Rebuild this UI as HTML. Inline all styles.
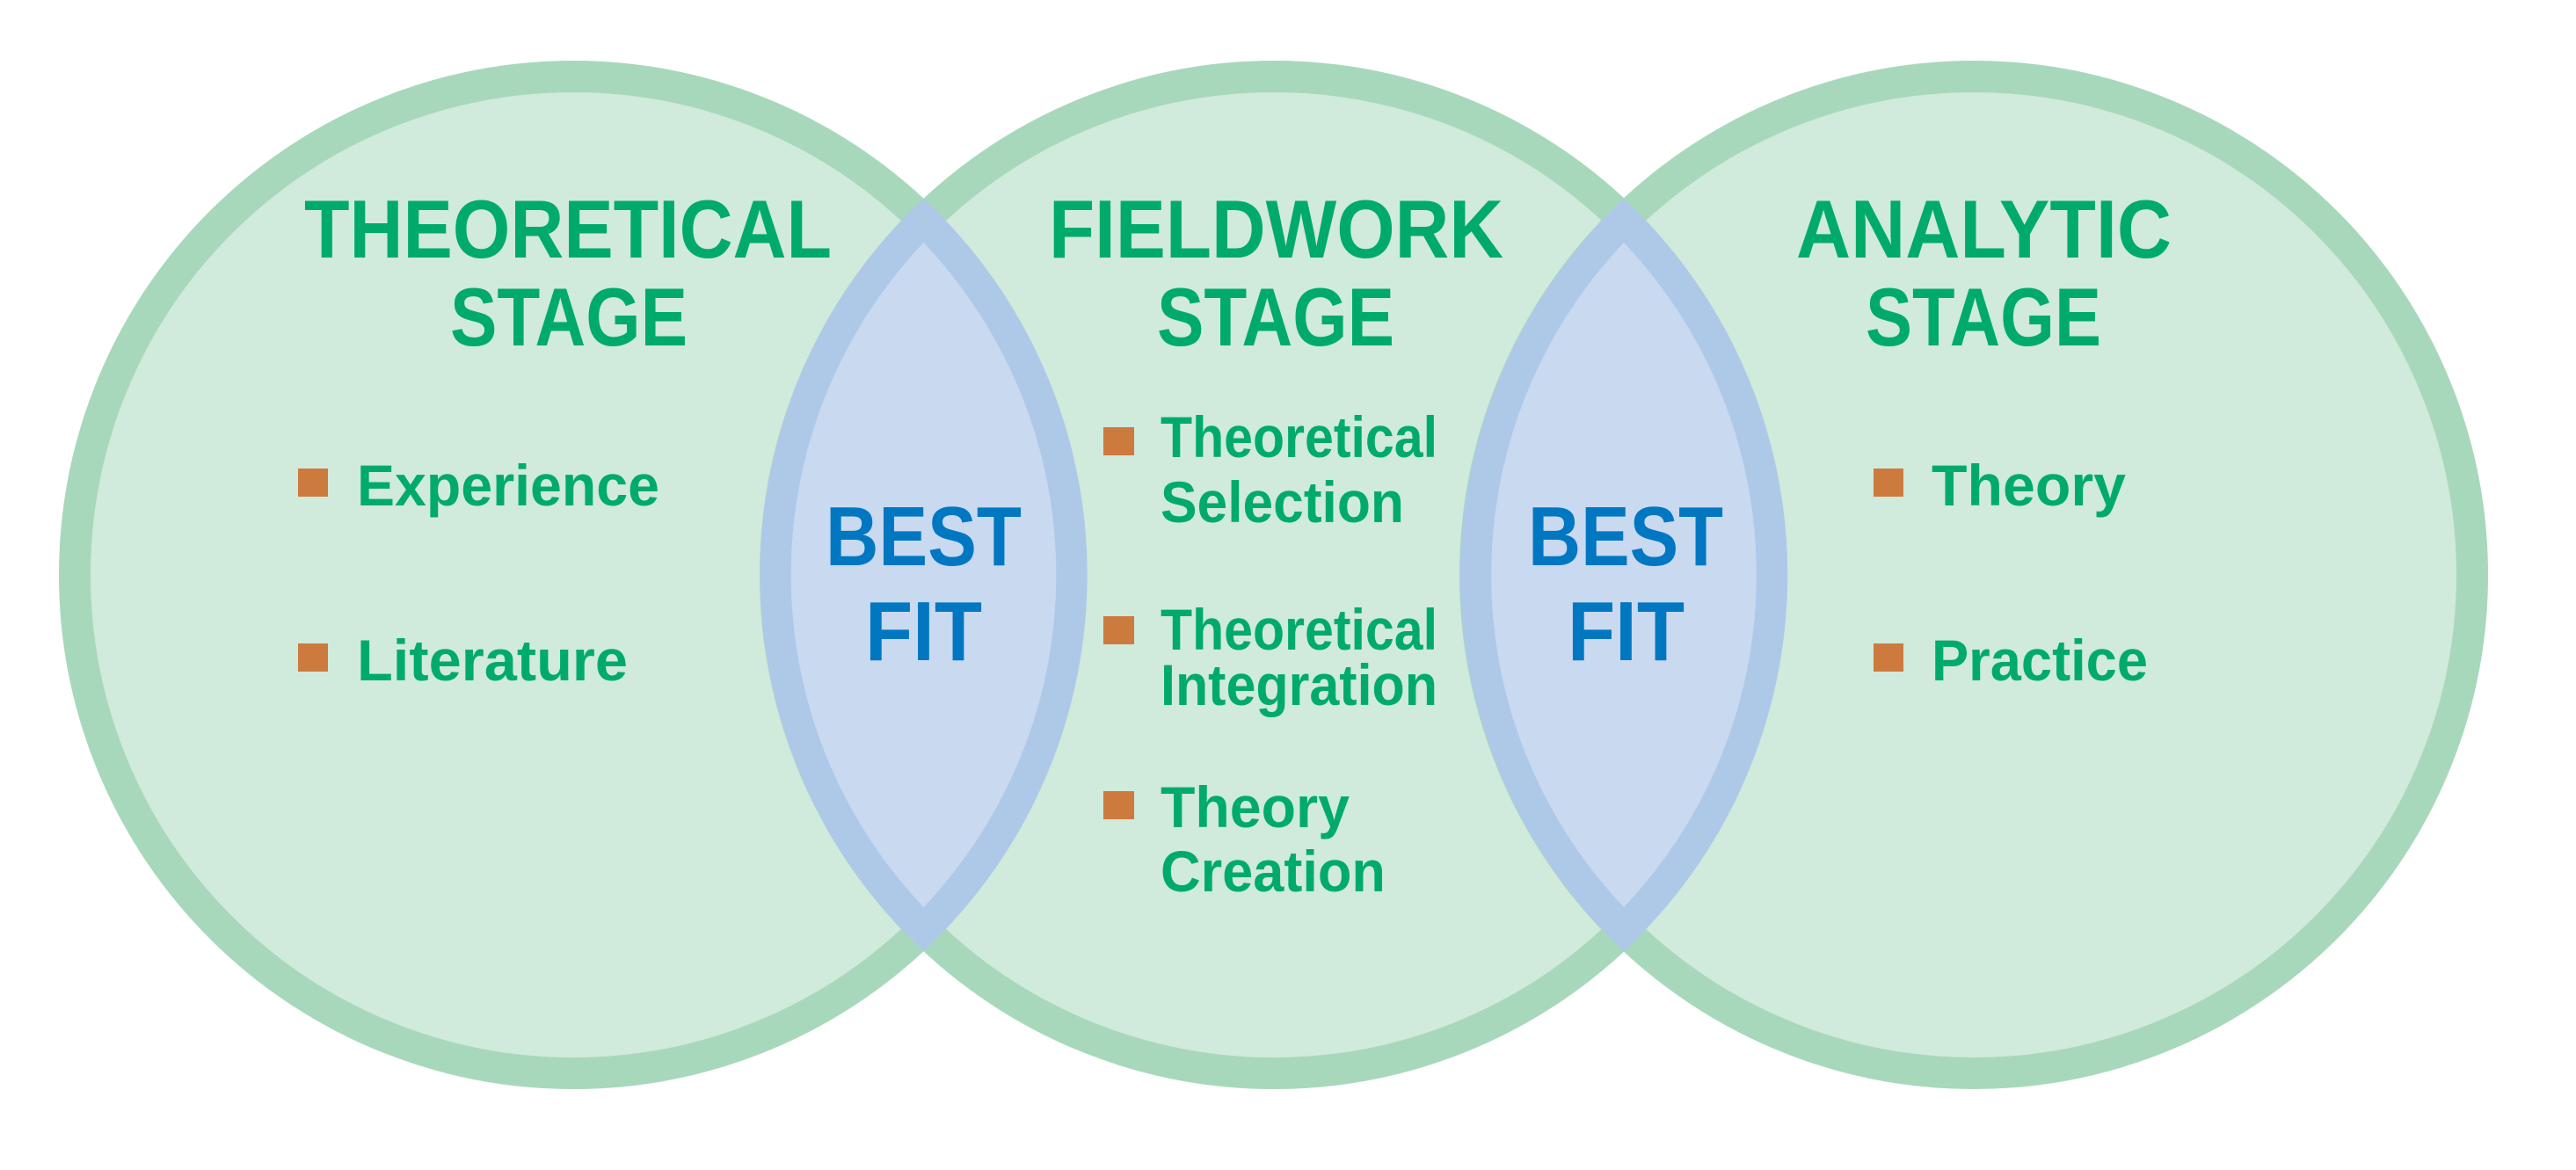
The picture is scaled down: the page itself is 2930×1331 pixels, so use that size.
<!DOCTYPE html>
<html><head><meta charset="utf-8"><style>html,body{margin:0;padding:0;background:#fff}svg{display:block}</style></head>
<body>
<svg width="2930" height="1331" viewBox="0 0 2930 1331" xmlns="http://www.w3.org/2000/svg" font-family="Liberation Sans, sans-serif" font-weight="bold">
<g fill="#d0eadb" stroke="#a8d8bc" stroke-width="36">
<circle cx="652" cy="654" r="567"/>
<circle cx="1449" cy="654" r="567"/>
<circle cx="2245" cy="654" r="567"/>
</g>
<!-- lenses -->
<path d="M1050.5 226 A585 585 0 0 1 1050.5 1082 A585 585 0 0 1 1050.5 226Z" fill="#aec9e8"/>
<path d="M1050.5 276 A549 549 0 0 1 1050.5 1032 A549 549 0 0 1 1050.5 276Z" fill="#c8d9f0"/>
<path d="M1847 226 A585 585 0 0 1 1847 1082 A585 585 0 0 1 1847 226Z" fill="#aec9e8"/>
<path d="M1847 276 A549 549 0 0 1 1847 1032 A549 549 0 0 1 1847 276Z" fill="#c8d9f0"/>

<g fill="#00ab6a" font-size="94">
<text x="346" y="293" textLength="600" lengthAdjust="spacingAndGlyphs">THEORETICAL</text>
<text x="512" y="393" textLength="270" lengthAdjust="spacingAndGlyphs">STAGE</text>
<text x="1193" y="293" textLength="517" lengthAdjust="spacingAndGlyphs">FIELDWORK</text>
<text x="1316" y="393" textLength="270" lengthAdjust="spacingAndGlyphs">STAGE</text>
<text x="2043" y="293" textLength="427" lengthAdjust="spacingAndGlyphs">ANALYTIC</text>
<text x="2122" y="393" textLength="268" lengthAdjust="spacingAndGlyphs">STAGE</text>
</g>
<g fill="#0077c0" font-size="96">
<text x="939" y="643" textLength="223" lengthAdjust="spacingAndGlyphs">BEST</text>
<text x="984" y="751" textLength="133" lengthAdjust="spacingAndGlyphs">FIT</text>
<text x="1738" y="643" textLength="222" lengthAdjust="spacingAndGlyphs">BEST</text>
<text x="1783" y="751" textLength="133" lengthAdjust="spacingAndGlyphs">FIT</text>
</g>
<g fill="#cd7a3f">
<rect x="339" y="533" width="34" height="32"/>
<rect x="339" y="732" width="34" height="32"/>
<rect x="1255" y="486" width="35" height="32"/>
<rect x="1255" y="701" width="35" height="32"/>
<rect x="1255" y="900" width="35" height="32"/>
<rect x="2131" y="533" width="34" height="32"/>
<rect x="2131" y="732" width="34" height="32"/>
</g>
<g fill="#00ab6a" font-size="66">
<text x="406" y="575" textLength="344" lengthAdjust="spacingAndGlyphs">Experience</text>
<text x="406" y="774" textLength="308" lengthAdjust="spacingAndGlyphs">Literature</text>
<text x="1320" y="520" textLength="315" lengthAdjust="spacingAndGlyphs">Theoretical</text>
<text x="1320" y="594" textLength="277" lengthAdjust="spacingAndGlyphs">Selection</text>
<text x="1320" y="739" textLength="315" lengthAdjust="spacingAndGlyphs">Theoretical</text>
<text x="1320" y="802" textLength="315" lengthAdjust="spacingAndGlyphs">Integration</text>
<text x="1320" y="941" textLength="215" lengthAdjust="spacingAndGlyphs">Theory</text>
<text x="1320" y="1014" textLength="256" lengthAdjust="spacingAndGlyphs">Creation</text>
<text x="2197" y="575" textLength="221" lengthAdjust="spacingAndGlyphs">Theory</text>
<text x="2197" y="774" textLength="246" lengthAdjust="spacingAndGlyphs">Practice</text>
</g>
</svg>
</body></html>
